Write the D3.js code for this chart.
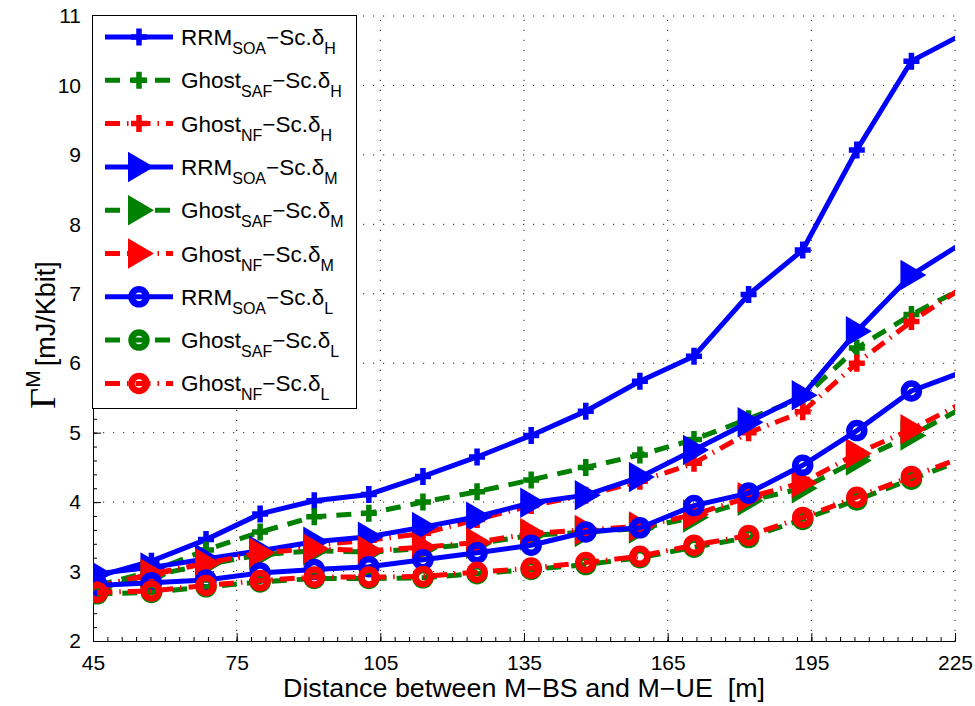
<!DOCTYPE html>
<html><head><meta charset="utf-8">
<script src="https://cdn.jsdelivr.net/npm/d3@7"></script>
<style>body{margin:0;background:#fff;} text{font-family:"Liberation Sans",Arial,sans-serif;}</style>
</head><body><svg id="c" width="975" height="706"></svg>
<script>
const xValues = [45.9, 57.2, 68.6, 79.9, 91.2, 102.6, 113.9, 125.2, 136.5, 147.9, 159.2, 170.5, 181.9, 193.2, 204.5, 215.9, 227.2];
const rrmH = [2.93, 3.15, 3.46, 3.83, 4.02, 4.11, 4.37, 4.65, 4.96, 5.31, 5.74, 6.10, 6.99, 7.63, 9.07, 10.35, 10.76];
const safH = [2.80, 3.00, 3.31, 3.57, 3.79, 3.84, 4.00, 4.15, 4.32, 4.50, 4.68, 4.90, 5.20, 5.50, 6.22, 6.70, 7.10];
const nfH  = [2.78, 2.95, 3.12, 3.25, 3.38, 3.45, 3.55, 3.75, 3.95, 4.10, 4.30, 4.56, 5.00, 5.30, 6.00, 6.60, 7.12];
const rrmM = [2.97, 3.06, 3.18, 3.30, 3.43, 3.50, 3.64, 3.79, 3.99, 4.10, 4.36, 4.75, 5.15, 5.54, 6.46, 7.27, 7.76];
const safM = [2.74, 2.94, 3.10, 3.24, 3.30, 3.28, 3.33, 3.40, 3.52, 3.57, 3.62, 3.78, 4.02, 4.20, 4.60, 4.96, 5.38];
const nfM  = [2.78, 2.97, 3.12, 3.27, 3.33, 3.30, 3.35, 3.42, 3.55, 3.60, 3.65, 3.82, 4.07, 4.28, 4.70, 5.05, 5.45];
const rrmL = [2.80, 2.84, 2.88, 2.98, 3.03, 3.07, 3.17, 3.27, 3.38, 3.57, 3.63, 3.95, 4.13, 4.53, 5.03, 5.60, 5.89];
const safL = [2.68, 2.70, 2.78, 2.85, 2.90, 2.90, 2.91, 2.97, 3.03, 3.10, 3.20, 3.35, 3.49, 3.75, 4.03, 4.33, 4.62];
const nfL  = [2.70, 2.72, 2.80, 2.87, 2.92, 2.92, 2.93, 2.99, 3.05, 3.13, 3.22, 3.38, 3.52, 3.78, 4.07, 4.37, 4.66];
const xTicks = [45, 75, 105, 135, 165, 195, 225];
const yTicks = [2, 3, 4, 5, 6, 7, 8, 9, 10, 11];
const seriesNames = [["RRM","SOA","H"],["Ghost","SAF","H"],["Ghost","NF","H"],["RRM","SOA","M"],["Ghost","SAF","M"],["Ghost","NF","M"],["RRM","SOA","L"],["Ghost","SAF","L"],["Ghost","NF","L"]];
const seriesData = [rrmH, safH, nfH, rrmM, safM, nfM, rrmL, safL, nfL];
const seriesColor = ["#0000ff","#008000","#ff0000","#0000ff","#008000","#ff0000","#0000ff","#008000","#ff0000"];
const seriesDash = [null,"15,10","15,7,1.5,7",null,"15,10","15,7,1.5,7",null,"15,10","15,7,1.5,7"];
const seriesMarker = ["plus","plus","plus","tri","tri","tri","circle","circle","circle"];

const svg = d3.select("#c");
const L = 93, R = 955, T = 16, B = 641;
const x = d3.scaleLinear().domain([45, 225]).range([L, R]);
const y = d3.scaleLinear().domain([2, 11]).range([B, T]);

// grid
const grid = svg.append("g");
grid.selectAll("line.gx").data(xTicks.slice(1)).enter().append("line")
  .attr("x1", d => x(d)).attr("x2", d => x(d)).attr("y1", B).attr("y2", T)
  .attr("stroke", "#222").attr("stroke-width", 1).attr("stroke-dasharray", "1.2,8.8");
grid.selectAll("line.gy").data(yTicks.slice(1)).enter().append("line")
  .attr("y1", d => y(d)).attr("y2", d => y(d)).attr("x1", L).attr("x2", R)
  .attr("stroke", "#222").attr("stroke-width", 1).attr("stroke-dasharray", "1.2,8.8");

// axes with inward ticks
const xMinor = d3.range(45, 225.01, 3);
const yMinor = d3.range(2, 11.001, 0.2);
const ax = svg.append("g").attr("transform", `translate(0,${B})`)
  .call(d3.axisBottom(x).tickValues(xTicks).tickSize(-8).tickPadding(14).tickFormat(d3.format("d")));
ax.select(".domain").attr("stroke", "#000");
ax.selectAll("text").attr("font-size", 21).attr("fill", "#000");
const axm = svg.append("g").attr("transform", `translate(0,${B})`)
  .call(d3.axisBottom(x).tickValues(xMinor).tickSize(-4).tickFormat(""));
axm.select(".domain").remove();
const ay = svg.append("g").attr("transform", `translate(${L},0)`)
  .call(d3.axisLeft(y).tickValues(yTicks).tickSize(-8).tickPadding(12).tickFormat(d3.format("d")));
ay.select(".domain").attr("stroke", "#000");
ay.selectAll("text").attr("font-size", 21).attr("fill", "#000");
const aym = svg.append("g").attr("transform", `translate(${L},0)`)
  .call(d3.axisLeft(y).tickValues(yMinor).tickSize(-4).tickFormat(""));
aym.select(".domain").remove();

// clip
svg.append("clipPath").attr("id", "clip").append("rect").attr("x", L).attr("y", T).attr("width", R - L).attr("height", B - T);
const plot = svg.append("g").attr("clip-path", "url(#clip)");

function drawMarker(g, type, color) {
  if (type === "plus") {
    g.append("path").attr("d", "M-8,0H8M0,-8.5V8.5").attr("stroke", color).attr("stroke-width", 5.5).attr("fill", "none");
  } else if (type === "tri") {
    g.append("path").attr("d", "M-10,-13.5L-10,13.5L13,0Z").attr("stroke", color).attr("stroke-width", 2).attr("fill", color);
  } else {
    g.append("circle").attr("r", 7.5).attr("stroke", color).attr("stroke-width", 6.5).attr("fill", "none");
  }
}

const line = d3.line().x((d, i) => x(xValues[i])).y(d => y(d));
seriesData.forEach((data, s) => {
  const g = plot.append("g");
  g.append("path").datum(data).attr("d", line).attr("fill", "none")
    .attr("stroke", seriesColor[s]).attr("stroke-width", 5)
    .attr("stroke-dasharray", seriesDash[s]);
  data.forEach((v, i) => {
    if (xValues[i] > 225) return;
    const mg = g.append("g").attr("transform", `translate(${x(xValues[i])},${y(v)})`);
    drawMarker(mg, seriesMarker[s], seriesColor[s]);
  });
});

// legend
const lg = svg.append("g");
lg.append("rect").attr("x", 92.5).attr("y", 15.5).attr("width", 264).attr("height", 393)
  .attr("fill", "#fff").attr("stroke", "#000").attr("stroke-width", 1);
seriesNames.forEach((nm, s) => {
  const cy = 37 + s * 43.3;
  const row = lg.append("g");
  row.append("line").attr("x1", 105).attr("x2", 173).attr("y1", cy).attr("y2", cy)
    .attr("stroke", seriesColor[s]).attr("stroke-width", 5).attr("stroke-dasharray", seriesDash[s]);
  drawMarker(row.append("g").attr("transform", `translate(139,${cy})`), seriesMarker[s], seriesColor[s]);
  const t = row.append("text").attr("x", 181).attr("y", cy + 8).attr("font-size", 22.5).attr("fill", "#000");
  t.append("tspan").text(nm[0]);
  t.append("tspan").attr("font-size", 16).attr("dy", 9).text(nm[1]);
  t.append("tspan").attr("dy", -9).text("\u2212Sc.\u03b4");
  t.append("tspan").attr("font-size", 16).attr("dy", 9).text(nm[2]);
});

// axis labels
svg.append("text").attr("x", 283).attr("y", 697).attr("font-size", 25)
  .attr("textLength", 482).attr("lengthAdjust", "spacingAndGlyphs")
  .style("white-space", "pre")
  .text("Distance between M\u2212BS and M\u2212UE  [m]");
const yl = svg.append("text").attr("transform", "translate(55,335) rotate(-90)").attr("text-anchor", "middle");
yl.append("tspan").attr("font-family", "Liberation Serif, serif").attr("font-size", 36).text("\u0393");
yl.append("tspan").attr("font-size", 21).attr("dy", -15).text("M");
yl.append("tspan").attr("font-size", 27).attr("dy", 15).attr("dx", 4).text("[mJ/Kbit]");
</script></body></html>
